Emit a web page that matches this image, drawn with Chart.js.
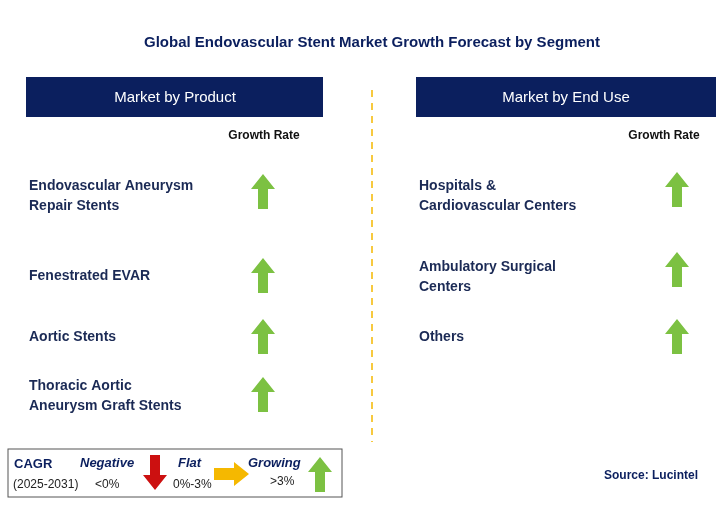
<!DOCTYPE html><html><head><meta charset="utf-8">
<script src="https://cdn.jsdelivr.net/npm/chart.js@4"></script>
<style>html,body{margin:0;padding:0;background:#fff}#w{width:728px;height:515px}</style></head><body><div id="w"><canvas id="c"></canvas></div>
<script>
const title = "Global Endovascular Stent Market Growth Forecast by Segment";
const productLabels = [["Endovascular Aneurysm","Repair Stents"],["Fenestrated EVAR"],["Aortic Stents"],["Thoracic Aortic","Aneurysm Graft Stents"]];
const productGrowth = ["growing","growing","growing","growing"];
const endUseLabels = [["Hospitals &","Cardiovascular Centers"],["Ambulatory Surgical","Centers"],["Others"]];
const endUseGrowth = ["growing","growing","growing"];
const productY = [192,276,337,395];
const endUseY = [190,270,337];

function arrowImg(kind){
  const c=document.createElement('canvas');
  const ctx=c.getContext('2d');
  if(kind==='growing'){c.width=24;c.height=36;ctx.fillStyle='#7cc142';
    ctx.beginPath();ctx.moveTo(12,0);ctx.lineTo(24,15);ctx.lineTo(17,15);ctx.lineTo(17,35);ctx.lineTo(7,35);ctx.lineTo(7,15);ctx.lineTo(0,15);ctx.closePath();ctx.fill();}
  else if(kind==='negative'){c.width=24;c.height=36;ctx.fillStyle='#cc1010';
    ctx.beginPath();ctx.moveTo(12,35);ctx.lineTo(24,20);ctx.lineTo(17,20);ctx.lineTo(17,0);ctx.lineTo(7,0);ctx.lineTo(7,20);ctx.lineTo(0,20);ctx.closePath();ctx.fill();}
  else {c.width=36;c.height=24;ctx.fillStyle='#f5b800';
    ctx.beginPath();ctx.moveTo(35,12);ctx.lineTo(20,0);ctx.lineTo(20,6);ctx.lineTo(0,6);ctx.lineTo(0,18);ctx.lineTo(20,18);ctx.lineTo(20,24);ctx.closePath();ctx.fill();}
  return c;
}
const pts=[],styles=[];
productGrowth.forEach((g,i)=>{pts.push({x:263,y:productY[i]});styles.push(arrowImg(g));});
endUseGrowth.forEach((g,i)=>{pts.push({x:677,y:endUseY[i]});styles.push(arrowImg(g));});
pts.push({x:155,y:473});styles.push(arrowImg('negative'));
pts.push({x:232,y:474});styles.push(arrowImg('flat'));
pts.push({x:320,y:475});styles.push(arrowImg('growing'));

const navy='#0b1f5e', txt='#1b2a55';
const deco={id:'deco',beforeDatasetsDraw(ch){
  const ctx=ch.ctx,sx=ch.scales.x,sy=ch.scales.y;const X=v=>sx.getPixelForValue(v),Y=v=>sy.getPixelForValue(v);
  ctx.save();ctx.textBaseline='middle';
  ctx.fillStyle=navy;ctx.font='bold 15px Arial, "Liberation Sans"';ctx.textAlign='center';ctx.fillText(title,X(372),Y(43));
  ctx.fillStyle=navy;ctx.fillRect(X(26),Y(77),X(323)-X(26),Y(117)-Y(77));ctx.fillRect(X(416),Y(77),X(716)-X(416),Y(117)-Y(77));
  ctx.fillStyle='#fff';ctx.font='15px Arial, "Liberation Sans"';ctx.fillText('Market by Product',X(175),Y(98));ctx.fillText('Market by End Use',X(566),Y(98));
  ctx.fillStyle='#111';ctx.font='bold 12px Arial, "Liberation Sans"';ctx.fillText('Growth Rate',X(264),Y(136));ctx.fillText('Growth Rate',X(664),Y(136));
  ctx.strokeStyle='#f5b800';ctx.lineWidth=1.5;ctx.setLineDash([7,6]);ctx.beginPath();ctx.moveTo(X(372),Y(90));ctx.lineTo(X(372),Y(442));ctx.stroke();ctx.setLineDash([]);
  ctx.textAlign='left';ctx.fillStyle=txt;ctx.font='bold 14px Arial, "Liberation Sans"';
  const draw=(labs,ys,x)=>labs.forEach((l,i)=>l.forEach((s,j)=>ctx.fillText(s,X(x),Y(ys[i]-(l.length-1)*10+j*20))));
  draw(productLabels,[196,276,337,396],29);draw(endUseLabels,[196,277,337],419);
  ctx.strokeStyle='#555';ctx.lineWidth=1;ctx.strokeRect(X(8),Y(449),X(342)-X(8),Y(497)-Y(449));
  ctx.fillStyle=navy;ctx.font='bold 13px Arial, "Liberation Sans"';ctx.fillText('CAGR',X(14),Y(464));
  ctx.font='12px Arial, "Liberation Sans"';ctx.fillStyle='#222';ctx.fillText('(2025-2031)',X(13),Y(485));
  ctx.fillStyle=navy;ctx.font='italic bold 13px Arial, "Liberation Sans"';ctx.fillText('Negative',X(80),Y(463));ctx.fillText('Flat',X(178),Y(463));ctx.fillText('Growing',X(248),Y(463));
  ctx.fillStyle='#222';ctx.font='12px Arial, "Liberation Sans"';ctx.fillText('<0%',X(95),Y(485));ctx.fillText('0%-3%',X(173),Y(485));ctx.fillText('>3%',X(270),Y(482));
  ctx.fillStyle=navy;ctx.font='bold 12px Arial, "Liberation Sans"';ctx.fillText('Source: Lucintel',X(604),Y(476));
  ctx.restore();}};
new Chart(document.getElementById('c'),{type:'scatter',
 data:{datasets:[{data:pts,pointStyle:styles,pointRadius:12,clip:false}]},
 options:{responsive:true,maintainAspectRatio:false,animation:false,layout:{padding:0,autoPadding:false},
  plugins:{legend:{display:false},tooltip:{enabled:false}},
  scales:{x:{type:'linear',min:0,max:728,display:false},y:{type:'linear',min:0,max:515,reverse:true,display:false}}},
 plugins:[deco]});
</script></body></html>
